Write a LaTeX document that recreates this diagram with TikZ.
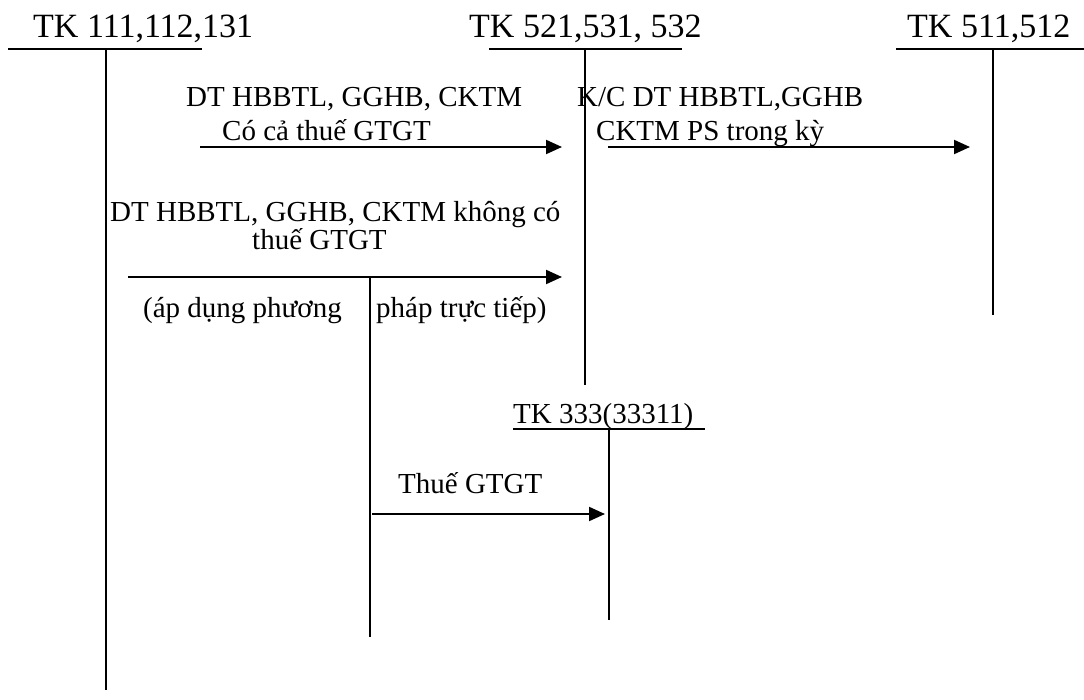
\documentclass[tikz,border=0pt]{standalone}
\usepackage{fontspec}
\setmainfont{Liberation Serif}
\usetikzlibrary{arrows.meta}
\begin{document}
\begin{tikzpicture}[x=1pt,y=-1pt,
  acct/.style={line width=2pt},
  arr/.style={line width=2pt,-{Triangle[length=16pt,width=14pt]}},
  head/.style={anchor=base west,inner sep=0pt,font=\fontsize{34}{40}\selectfont},
  lbl/.style={anchor=base west,inner sep=0pt,font=\fontsize{29}{34}\selectfont}]
\useasboundingbox (0,0) rectangle (1084,700);
% headers
\node[head] (h1) at (33,38) {TK 111,112,131};
\node[head] (h2) at (469,38) {TK 521,531, 532};
\node[head] (h3) at (907,38) {TK 511,512};
\node[lbl] (h4) at (513,423) {TK 333(33311)};
% T-account coordinates
\coordinate (u1a) at (8,49);   \coordinate (u1b) at (202,49);
\coordinate (v1a) at (106,49); \coordinate (v1b) at (106,690);
\coordinate (u2a) at (489,49); \coordinate (u2b) at (682,49);
\coordinate (v2a) at (585,49); \coordinate (v2b) at (585,385);
\coordinate (u3a) at (896,49); \coordinate (u3b) at (1084,49);
\coordinate (v3a) at (993,49); \coordinate (v3b) at (993,315);
\coordinate (u4a) at (513,429); \coordinate (u4b) at (705,429);
\coordinate (v4a) at (609,429); \coordinate (v4b) at (609,620);
\coordinate (v5a) at (370,277); \coordinate (v5b) at (370,637);
\draw[acct] (u1a) -- (u1b) (v1a) -- (v1b);
\draw[acct] (u2a) -- (u2b) (v2a) -- (v2b);
\draw[acct] (u3a) -- (u3b) (v3a) -- (v3b);
\draw[acct] (u4a) -- (u4b) (v4a) -- (v4b);
\draw[acct] (v5a) -- (v5b);
% arrows
\coordinate (a1s) at (200,147); \coordinate (a1e) at (562,147);
\coordinate (a2s) at (608,147); \coordinate (a2e) at (970,147);
\coordinate (a3s) at (128,277); \coordinate (a3e) at (562,277);
\coordinate (a4s) at (372,514); \coordinate (a4e) at (605,514);
\draw[arr] (a1s) -- (a1e);
\draw[arr] (a2s) -- (a2e);
\draw[arr] (a3s) -- (a3e);
\draw[arr] (a4s) -- (a4e);
% labels
\node[lbl] (l1a) at (186,107) {DT HBBTL, GGHB, CKTM};
\node[lbl] (l1b) at (222,141) {Có cả thuế GTGT};
\node[lbl] (l2a) at (577,107) {K/C DT HBBTL,GGHB};
\node[lbl] (l2b) at (596,141) {CKTM PS trong kỳ};
\node[lbl] (l3a) at (110,222) {DT HBBTL, GGHB, CKTM không có};
\node[lbl] (l3b) at (252,250) {thuế GTGT};
\node[lbl] (l3c) at (143,318) {(áp dụng phương};
\node[lbl] (l3d) at (376,318) {pháp trực tiếp)};
\node[lbl] (l4) at (398,493) {Thuế GTGT};
\end{tikzpicture}
\end{document}
